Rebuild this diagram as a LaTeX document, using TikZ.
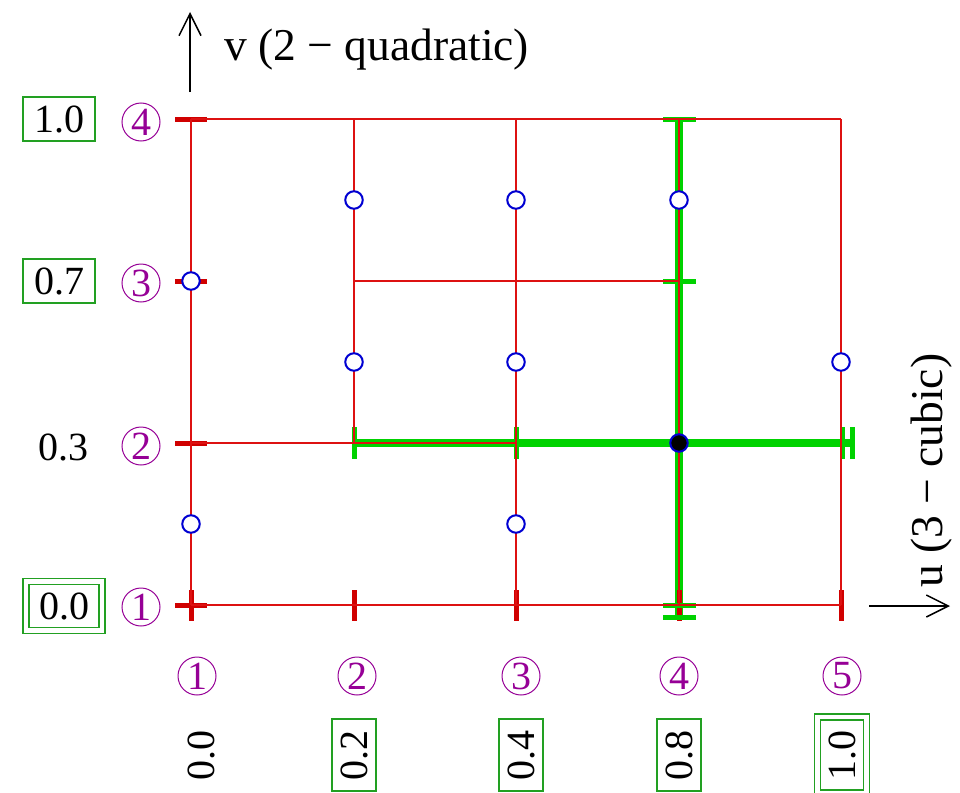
\documentclass[tikz,border=0pt]{standalone}
\usepackage{fontspec}
\setmainfont{Liberation Serif}
\usetikzlibrary{arrows.meta}
\definecolor{gridred}{RGB}{221,17,17}
\definecolor{tickred}{RGB}{208,0,0}
\definecolor{hlgreen}{RGB}{0,210,0}
\definecolor{boxgreen}{RGB}{34,160,34}
\definecolor{circblue}{RGB}{0,0,210}
\definecolor{numpurple}{RGB}{150,0,150}
\begin{document}
\begin{tikzpicture}[x=1pt,y=-1pt,
  gridline/.style={gridred, line width=1.8},
  redtick/.style={tickred, line width=5},
  greenline/.style={hlgreen, line width=8.5},
  greentick/.style={hlgreen, line width=5},
  lbl/.style={font=\fontsize{40}{44}\selectfont, text height=27, text depth=0, inner sep=0},
  boxlbl/.style={lbl, draw=boxgreen, line width=1.5, minimum width=72, minimum height=44},
  dboxlbl/.style={lbl, draw=boxgreen, line width=1.5, double=white, double distance=4.5, minimum width=76, minimum height=49},
  numcirc/.style={circle, draw=numpurple, line width=1, text=numpurple, minimum size=38, inner sep=0, font=\fontsize{40}{44}\selectfont},
  ctrl/.style={circle, draw=circblue, fill=white, line width=2, minimum size=17.5, inner sep=0},
  axisarrow/.style={line width=1.5, -{Straight Barb[length=22pt,width=22pt]}},
  axislbl/.style={font=\fontsize{45.5}{50}\selectfont, inner sep=0}
]
\useasboundingbox (0,0) rectangle (960,792);
% grid coordinates
\foreach \i/\x in {1/191,2/354,3/516,4/679,5/841}{
  \foreach \j/\y in {1/605,2/443,3/281,4/119}{
    \coordinate (g\i\j) at (\x,\y);
  }
}
% green highlighted lines
\draw[greenline] (g22) -- ([xshift=11pt]g52);
\draw[greenline] (g44) -- ([yshift=-12pt]g41);
% red ticks
\foreach \j in {1,2,3,4}{
  \draw[redtick] ([xshift=-16pt]g1\j) -- ([xshift=16pt]g1\j);
}
\foreach \i in {1,2,3,4,5}{
  \draw[redtick] ([yshift=15pt]g\i1) -- ([yshift=-16pt]g\i1);
}
% green ticks
\draw[greentick] ([yshift=16pt]g22) -- ([yshift=-16pt]g22);
\draw[greentick] ([yshift=16pt]g32) -- ([yshift=-16pt]g32);
\draw[greentick] ([yshift=16pt,xshift=1pt]g52) -- ([yshift=-16pt,xshift=1pt]g52);
\draw[greentick] ([yshift=16pt,xshift=11pt]g52) -- ([yshift=-16pt,xshift=11pt]g52);
\draw[greentick] ([xshift=-16pt]g44) -- ([xshift=17pt]g44);
\draw[greentick] ([xshift=-16pt]g43) -- ([xshift=17pt]g43);
\draw[greentick] ([xshift=-16pt]g41) -- ([xshift=17pt]g41);
\draw[greentick] ([xshift=-16pt,yshift=-12pt]g41) -- ([xshift=17pt,yshift=-12pt]g41);
% red grid lines
\draw[gridline] (g11) -- (g51);
\draw[gridline] (g14) -- (g54);
\draw[gridline] (g11) -- (g14);
\draw[gridline] (g51) -- (g54);
\draw[gridline] (g22) -- (g24);
\draw[gridline] (g31) -- (g34);
\draw[gridline] (g41) -- (g44);
\draw[gridline] (g23) -- (g43);
\draw[gridline] (g12) -- (g32);
% control points
\node[ctrl] (c1) at (354,200) {};
\node[ctrl] (c2) at (516,200) {};
\node[ctrl] (c3) at (679,200) {};
\node[ctrl] (c4) at (191,281) {};
\node[ctrl] (c5) at (354,362) {};
\node[ctrl] (c6) at (516,362) {};
\node[ctrl] (c7) at (841,362) {};
\node[ctrl] (c8) at (191,524) {};
\node[ctrl] (c9) at (516,524) {};
\node[ctrl, fill=black] (pt) at (g42) {};
% left labels
\node[boxlbl] (lv4) at (59,119) {1.0};
\node[boxlbl] (lv3) at (59,281) {0.7};
\node[lbl] (lv2) at (63,447) {0.3};
\node[dboxlbl] (lv1) at (64,606) {0.0};
\node[numcirc] (nv4) at (141,122) {4};
\node[numcirc] (nv3) at (141,283) {3};
\node[numcirc] (nv2) at (141,446) {2};
\node[numcirc] (nv1) at (141,607) {1};
% bottom labels
\node[numcirc] (nu1) at (197,676) {1};
\node[numcirc] (nu2) at (357,676) {2};
\node[numcirc] (nu3) at (521,676) {3};
\node[numcirc] (nu4) at (679,676) {4};
\node[numcirc] (nu5) at (842,676) {5};
\node[lbl, rotate=90] (lu1) at (201,755) {0.0};
\node[boxlbl, rotate=90] (lu2) at (354,755) {0.2};
\node[boxlbl, rotate=90] (lu3) at (521,755) {0.4};
\node[boxlbl, rotate=90] (lu4) at (679,755) {0.8};
\node[dboxlbl, rotate=90] (lu5) at (842,755) {1.0};
% axes
\coordinate (va) at (190,92);
\coordinate (vb) at (190,12);
\draw[axisarrow] (va) -- (vb);
\node[axislbl, anchor=base west] (vlbl) at (224,60) {v (2 − quadratic)};
\coordinate (ua) at (869,606);
\coordinate (ub) at (950,606);
\draw[axisarrow] (ua) -- (ub);
\node[axislbl, anchor=base west, rotate=90] (ulbl) at (942,588) {u (3 − cubic)};
\end{tikzpicture}
\end{document}
